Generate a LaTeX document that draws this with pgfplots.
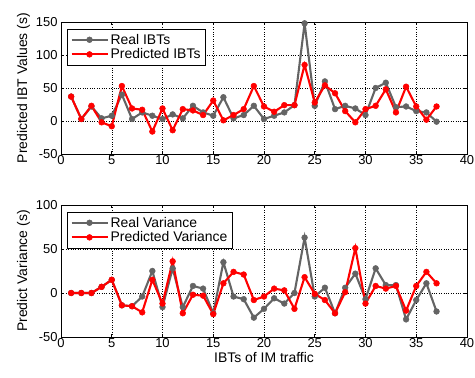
\documentclass[border=0pt]{standalone}
\usepackage{pgfplots}
\pgfplotsset{compat=1.18}
\usepackage{fontspec}
\setmainfont{Liberation Sans}
\definecolor{realgray}{RGB}{100,100,100}
\pgfplotsset{
  myaxis/.style={
    scale only axis, width=406bp, height=132bp,
    xmin=0, xmax=40, xtick={0,5,...,40},
    grid=major, major grid style={black, dotted, line width=0.5pt},
    axis line style={line width=1pt},
    tick style={black, line width=0.6pt}, tick align=inside, major tick length=3pt,
    ticklabel style={font=\fontsize{13}{14}\selectfont},
    xticklabel style={yshift=2pt},
    label style={font=\fontsize{14}{16}\selectfont},
    /pgf/number format/assume math mode=true,
    legend style={at={(0.015,0.95)}, anchor=north west, draw=black, line width=0.8pt,
      font=\fontsize{14}{16}\selectfont, row sep=-1pt, inner sep=3pt},
    legend cell align=left,
    legend image code/.code={\draw[mark repeat=2,mark phase=2] plot coordinates {(0bp,0bp)(18bp,0bp)(36bp,0bp)};},
  },
  realline/.style={realgray, line width=2.1pt, mark=*, mark size=2.9pt, mark options={fill=realgray, draw=realgray, line width=0.5pt, solid}},
  predline/.style={red, line width=2.1pt, mark=*, mark size=2.9pt, mark options={fill=red, draw=red, line width=0.5pt, solid}},
}
\begin{document}
\begin{tikzpicture}
\begin{axis}[myaxis, at={(0,0)}, anchor=north west,
  ymin=-50, ymax=150, ytick={-50,0,50,100,150},
  ylabel={Predicted IBT Values (s)}, ylabel style={yshift=-1pt}]
\addplot[realline] coordinates {
(1,37)(2,3)(3,22)(4,4)(5,8)(6,40)(7,3)(8,13)(9,8)(10,3)
(11,10)(12,4)(13,23)(14,13)(15,8)(16,36)(17,4)(18,9)(19,23)(20,3)
(21,8)(22,13)(23,24)(24,148)(25,23)(26,60)(27,18)(28,23)(29,19)(30,9)
(31,50)(32,58)(33,21)(34,22)(35,15)(36,13)(37,-1)};
\addlegendentry{Real IBTs}
\addplot[predline] coordinates {
(1,37)(2,3)(3,23)(4,-2)(5,-8)(6,53)(7,19)(8,17)(9,-16)(10,19)
(11,-14)(12,18)(13,16)(14,9)(15,31)(16,1)(17,9)(18,18)(19,53)(20,22)
(21,14)(22,24)(23,24)(24,85)(25,28)(26,54)(27,42)(28,15)(29,-2)(30,18)
(31,23)(32,48)(33,13)(34,52)(35,22)(36,2)(37,22)};
\addlegendentry{Predicted IBTs}
\end{axis}
\begin{axis}[myaxis, at={(0,-183bp)}, anchor=north west,
  ymin=-50, ymax=100, ytick={-50,0,50,100},
  ylabel={Predict Variance (s)}, ylabel style={yshift=-1pt},
  xlabel={IBTs of IM traffic}, xlabel style={yshift=2pt}]
\addplot[realline] coordinates {
(1,0)(2,0)(3,0)(4,7)(5,15)(6,-14)(7,-15)(8,-4)(9,25)(10,-16)
(11,28)(12,-16)(13,8)(14,5)(15,-23)(16,35)(17,-4)(18,-7)(19,-28)(20,-18)
(21,-6)(22,-12)(23,0)(24,63)(25,-4)(26,6)(27,-23)(28,6)(29,22)(30,-7)
(31,28)(32,9)(33,9)(34,-30)(35,-8)(36,11)(37,-21)};
\addlegendentry{Real Variance}
\addplot[predline] coordinates {
(1,0)(2,0)(3,0)(4,7)(5,15)(6,-14)(7,-15)(8,-22)(9,15)(10,-12)
(11,36)(12,-23)(13,-2)(14,-3)(15,-24)(16,11)(17,24)(18,21)(19,-8)(20,-4)
(21,5)(22,3)(23,-18)(24,18)(25,-1)(26,-8)(27,-23)(28,1)(29,51)(30,-12)
(31,8)(32,5)(33,8)(34,-20)(35,8)(36,24)(37,11)};
\addlegendentry{Predicted Variance}
\end{axis}
\pgfresetboundingbox
\path (-61bp,22bp) rectangle (414bp,-356bp);
\end{tikzpicture}
\end{document}
